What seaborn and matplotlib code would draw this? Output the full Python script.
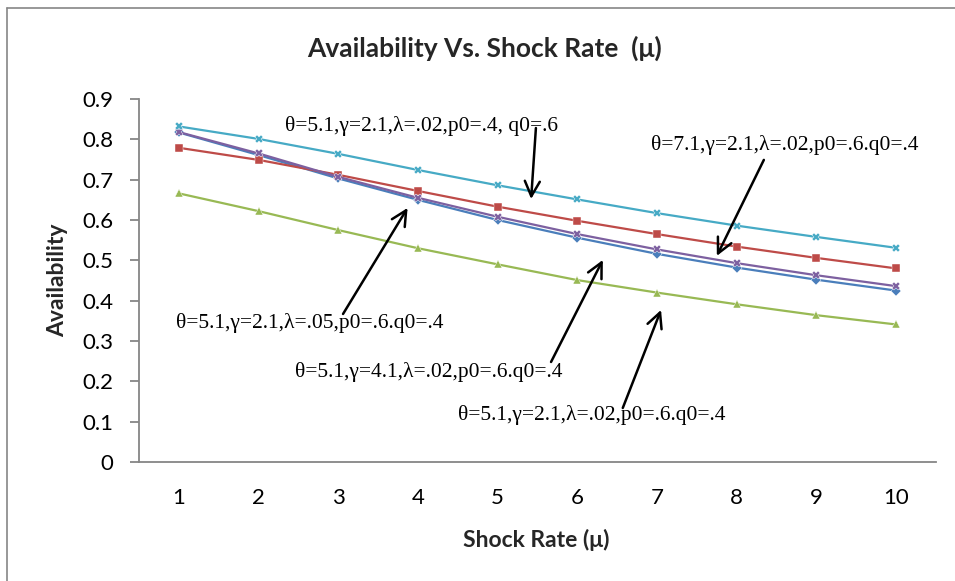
import matplotlib
matplotlib.use("Agg")
import matplotlib.pyplot as plt
import seaborn as sns
import pandas as pd
from matplotlib.lines import Line2D

# ---- data ----
shock_rate = [1, 2, 3, 4, 5, 6, 7, 8, 9, 10]
s_lam05 = [0.817, 0.761, 0.703, 0.650, 0.600, 0.556, 0.516, 0.482, 0.452, 0.425]   # blue diamonds
s_theta71 = [0.779, 0.749, 0.712, 0.672, 0.633, 0.598, 0.565, 0.534, 0.506, 0.480]  # red squares
s_base = [0.666, 0.622, 0.575, 0.530, 0.490, 0.451, 0.420, 0.391, 0.364, 0.341]     # green triangles
s_gamma41 = [0.818, 0.765, 0.707, 0.655, 0.608, 0.565, 0.527, 0.493, 0.463, 0.436]  # purple x
s_p04 = [0.832, 0.801, 0.764, 0.724, 0.686, 0.651, 0.617, 0.586, 0.558, 0.531]      # cyan star
series_names = ["lam05", "theta71", "base", "gamma41", "p04"]
series_vals = [s_lam05, s_theta71, s_base, s_gamma41, s_p04]
y_ticks = [0, 0.1, 0.2, 0.3, 0.4, 0.5, 0.6, 0.7, 0.8, 0.9]
y_tick_labels = ["0", "0.1", "0.2", "0.3", "0.4", "0.5", "0.6", "0.7", "0.8", "0.9"]

labels_text = {
    "p04": "θ=5.1,γ=2.1,λ=.02,p0=.4, q0=.6",
    "theta71": "θ=7.1,γ=2.1,λ=.02,p0=.6.q0=.4",
    "lam05": "θ=5.1,γ=2.1,λ=.05,p0=.6.q0=.4",
    "gamma41": "θ=5.1,γ=4.1,λ=.02,p0=.6.q0=.4",
    "base": "θ=5.1,γ=2.1,λ=.02,p0=.6.q0=.4",
}

rows = []
for name, vals in zip(series_names, series_vals):
    for x, v in zip(shock_rate, vals):
        rows.append({"mu": x, "A": v, "series": name})
df = pd.DataFrame(rows)

sns.set_theme(style="white")
plt.rcParams["font.family"] = ["Lato", "DejaVu Sans"]

palette = {"lam05": "#4A7EBB", "theta71": "#BE4B48", "base": "#98B954",
           "gamma41": "#7D60A0", "p04": "#46AAC5"}
markers = {"lam05": "D", "theta71": "s", "base": "^", "gamma41": "X", "p04": "X"}

fig = plt.figure(figsize=(9.55, 5.81), dpi=100)
W, H = 955, 581
ax = fig.add_axes([139 / W, (H - 462) / H, (936 - 139) / W, (462 - 99) / H])

sns.lineplot(data=df, x="mu", y="A", hue="series", style="series",
             palette=palette, markers=markers, dashes=False,
             hue_order=series_names, style_order=series_names,
             linewidth=1.6, markersize=5.5, markeredgewidth=0.3,
             legend=False, ax=ax)

ax.set_xlim(0.5, 10.5)
ax.set_ylim(0, 0.9)
ax.set_xticks(shock_rate)
ax.set_xticklabels([str(v) for v in shock_rate])
ax.set_yticks(y_ticks)
ax.set_yticklabels(y_tick_labels)

for side in ["top", "right"]:
    ax.spines[side].set_visible(False)
for side in ["left", "bottom"]:
    ax.spines[side].set_color("#868686")
    ax.spines[side].set_linewidth(1.3)

ax.tick_params(axis="y", length=6.5, width=1.3, color="#868686", direction="out",
               pad=12, labelsize=16, labelcolor="black", left=True)
ax.tick_params(axis="x", length=0, pad=19, labelsize=16, labelcolor="black")

ax.set_xlabel("Shock Rate (μ)", fontsize=16.5, fontweight="bold")
ax.set_ylabel("Availability", fontsize=16.5, fontweight="bold")
ax.xaxis.set_label_coords(0.498, -0.185)
ax.yaxis.set_label_coords(-0.089, 0.501)

ax.text(0.434, 1.14, "Availability Vs. Shock Rate  (μ)", transform=ax.transAxes,
        ha="center", va="center", fontsize=19, fontweight="bold")

# annotations: (text x, text y, arrow tail x, tail y, head x, head y) in data units
annots = {
    "p04": (2.33, 0.833, 5.48, 0.828, 5.42, 0.652),
    "theta71": (6.92, 0.786, 8.34, 0.749, 7.75, 0.511),
    "lam05": (0.96, 0.345, 3.06, 0.367, 3.87, 0.630),
    "gamma41": (2.46, 0.223, 5.67, 0.248, 6.32, 0.501),
    "base": (4.50, 0.117, 6.57, 0.134, 7.05, 0.377),
}
for key, (tx, ty, ax0, ay0, hx, hy) in annots.items():
    ax.text(tx, ty, labels_text[key], ha="left", va="center",
            fontsize=15.5, family=["Liberation Serif", "DejaVu Serif"], color="black")
    ax.annotate("", xy=(hx, hy), xytext=(ax0, ay0),
                arrowprops=dict(arrowstyle="->,head_length=0.9,head_width=0.45",
                                color="black", lw=1.8, shrinkA=0, shrinkB=0))

# outer chart border (cropped at right/bottom)
fig.add_artist(Line2D([7 / W, 7 / W], [0, 1 - 8 / H], transform=fig.transFigure,
                      color="#868686", lw=1.2))
fig.add_artist(Line2D([7 / W, 1], [1 - 8 / H, 1 - 8 / H], transform=fig.transFigure,
                      color="#868686", lw=1.2))

fig.savefig("out.png", dpi=100)
